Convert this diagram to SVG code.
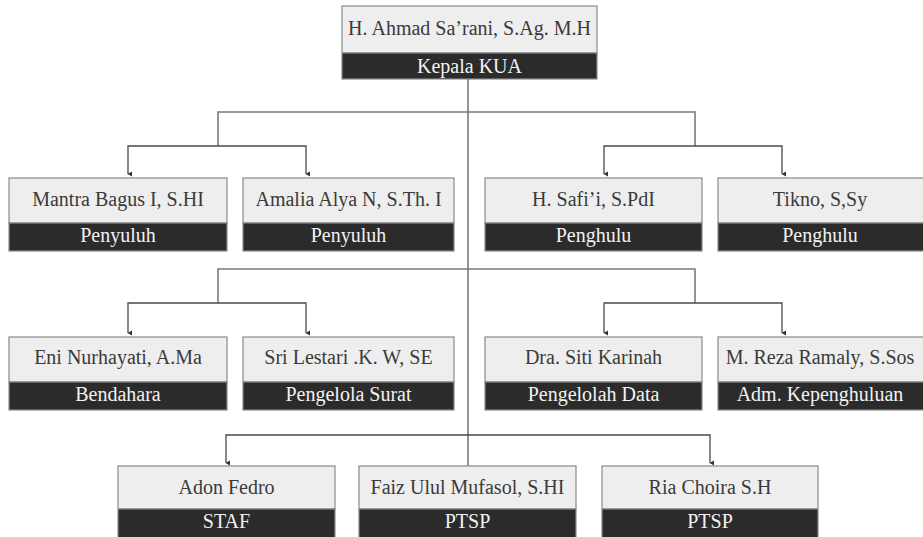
<svg xmlns="http://www.w3.org/2000/svg" width="923" height="537" viewBox="0 0 923 537">
<style>
.lt{fill:#eeeeee;stroke:#8a8a8a;stroke-width:1.2}
.dk{fill:#2b2b2b;stroke:#8a8a8a;stroke-width:1.2}
text{font-family:'Liberation Serif','Tinos','Times New Roman','DejaVu Serif',serif;font-size:20px;text-anchor:middle}
.nm{fill:#3a3a3a}
.rl{fill:#f2f2f2}
.ln{fill:none;stroke:#7a7a7a;stroke-width:1.6}
.ar{fill:none;stroke:#4a4a4a;stroke-width:1.3}
</style>
<defs>
<marker id="ah" markerWidth="6" markerHeight="6" refX="3" refY="5" orient="auto-start-reverse" markerUnits="userSpaceOnUse" viewBox="0 0 6 6">
<path d="M0.5,1 L5.5,1 L3,5.5 Z" fill="#333"/>
</marker>
</defs>
<rect width="923" height="537" fill="#ffffff"/>
<g id="connectors">
<path class="ln" d="M468 79 V466"/>
<path class="ln" d="M218 146 V112 H695 V146"/>
<path class="ar" d="M218 146 H128 V174" marker-end="url(#ah)"/>
<path class="ar" d="M218 146 H306 V174" marker-end="url(#ah)"/>
<path class="ar" d="M695 146 H604 V174" marker-end="url(#ah)"/>
<path class="ar" d="M695 146 H782 V174" marker-end="url(#ah)"/>
<path class="ln" d="M218 303 V269 H695 V303"/>
<path class="ar" d="M218 303 H128 V333" marker-end="url(#ah)"/>
<path class="ar" d="M218 303 H306 V333" marker-end="url(#ah)"/>
<path class="ar" d="M695 303 H604 V333" marker-end="url(#ah)"/>
<path class="ar" d="M695 303 H782 V333" marker-end="url(#ah)"/>
<path class="ar" d="M468 435 H226 V463" marker-end="url(#ah)"/>
<path class="ar" d="M468 435 H710 V463" marker-end="url(#ah)"/>
</g>
<g id="kepala">
<rect class="lt" x="342" y="6" width="255" height="47"/>
<rect class="dk" x="342" y="53" width="255" height="26"/>
<text class="nm" x="469.5" y="35">H. Ahmad Sa’rani, S.Ag. M.H</text>
<text class="rl" x="469.5" y="73">Kepala KUA</text>
</g>
<g id="mantra">
<rect class="lt" x="9" y="178" width="218" height="45"/>
<rect class="dk" x="9" y="223" width="218" height="28"/>
<text class="nm" x="118" y="206">Mantra Bagus I, S.HI</text>
<text class="rl" x="118" y="242">Penyuluh</text>
</g>
<g id="amalia">
<rect class="lt" x="243" y="178" width="211" height="45"/>
<rect class="dk" x="243" y="223" width="211" height="28"/>
<text class="nm" x="348.5" y="206">Amalia Alya N, S.Th. I</text>
<text class="rl" x="348.5" y="242">Penyuluh</text>
</g>
<g id="safii">
<rect class="lt" x="485" y="178" width="217" height="45"/>
<rect class="dk" x="485" y="223" width="217" height="28"/>
<text class="nm" x="593.5" y="206">H. Safi’i, S.PdI</text>
<text class="rl" x="593.5" y="242">Penghulu</text>
</g>
<g id="tikno">
<rect class="lt" x="718" y="178" width="206" height="45"/>
<rect class="dk" x="718" y="223" width="206" height="28"/>
<text class="nm" x="820" y="206">Tikno, S,Sy</text>
<text class="rl" x="820" y="242">Penghulu</text>
</g>
<g id="eni">
<rect class="lt" x="9" y="337" width="218" height="45"/>
<rect class="dk" x="9" y="382" width="218" height="28"/>
<text class="nm" x="118" y="364">Eni Nurhayati, A.Ma</text>
<text class="rl" x="118" y="401">Bendahara</text>
</g>
<g id="sri">
<rect class="lt" x="243" y="337" width="211" height="45"/>
<rect class="dk" x="243" y="382" width="211" height="28"/>
<text class="nm" x="348.5" y="364">Sri Lestari .K. W, SE</text>
<text class="rl" x="348.5" y="401">Pengelola Surat</text>
</g>
<g id="siti">
<rect class="lt" x="485" y="337" width="217" height="45"/>
<rect class="dk" x="485" y="382" width="217" height="28"/>
<text class="nm" x="593.5" y="364">Dra. Siti Karinah</text>
<text class="rl" x="593.5" y="401">Pengelolah Data</text>
</g>
<g id="reza">
<rect class="lt" x="718" y="337" width="206" height="45"/>
<rect class="dk" x="718" y="382" width="206" height="28"/>
<text class="nm" x="820" y="364">M. Reza Ramaly, S.Sos</text>
<text class="rl" x="820" y="401">Adm. Kepenghuluan</text>
</g>
<g id="adon">
<rect class="lt" x="118" y="466" width="217" height="43"/>
<rect class="dk" x="118" y="509" width="217" height="30"/>
<text class="nm" x="226.5" y="494">Adon Fedro</text>
<text class="rl" x="226.5" y="528">STAF</text>
</g>
<g id="faiz">
<rect class="lt" x="359" y="466" width="217" height="43"/>
<rect class="dk" x="359" y="509" width="217" height="30"/>
<text class="nm" x="467.5" y="494">Faiz Ulul Mufasol, S.HI</text>
<text class="rl" x="467.5" y="528">PTSP</text>
</g>
<g id="ria">
<rect class="lt" x="602" y="466" width="216" height="43"/>
<rect class="dk" x="602" y="509" width="216" height="30"/>
<text class="nm" x="710" y="494">Ria Choira S.H</text>
<text class="rl" x="710" y="528">PTSP</text>
</g>
</svg>
